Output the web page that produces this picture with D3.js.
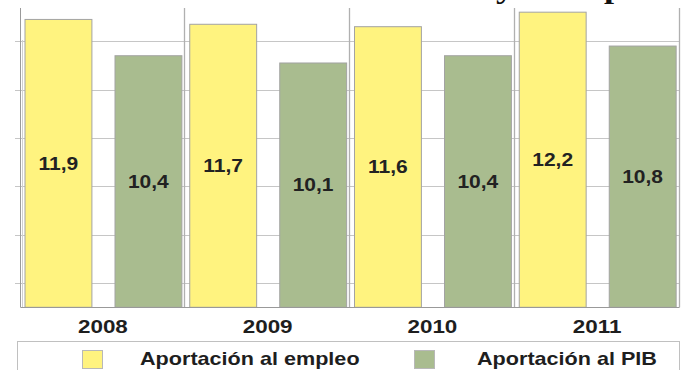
<!DOCTYPE html>
<html>
<head>
<meta charset="utf-8">
<script src="https://cdn.jsdelivr.net/npm/d3@7"></script>
<style>
  html, body { margin: 0; padding: 0; background: #fff; }
  svg { display: block; }
</style>
</head>
<body>
<svg id="chart" width="686" height="370"></svg>
<script>
// Chart data
const years = ["2008", "2009", "2010", "2011"];
const seriesNames = ["Aportación al empleo", "Aportación al PIB"];
const empleo = [11.9, 11.7, 11.6, 12.2];
const pib = [10.4, 10.1, 10.4, 10.8];
const gridValues = [1, 3, 5, 7, 9, 11];
const seriesColors = ["#fff37f", "#a9bc8f"];

const svg = d3.select("#chart");
const plotLeft = 20.5, plotRight = 679.5, plotTop = 8, plotBottom = 307.3;
const sx = 1.2; // horizontal stretch of the lettering

const x = d3.scaleBand().domain(years).range([plotLeft, plotRight]).paddingInner(0).paddingOuter(0);
const xs = d3.scaleBand().domain(seriesNames).range([0, x.bandwidth()])
  .paddingInner(0.2556).paddingOuter(0.0444);
const y = d3.scaleLinear().domain([0, 12.4]).range([plotBottom, plotBottom - 12.4 * 24.19]);

function stretchedText(g, tx, ty, str, opts) {
  return g.append("text")
    .attr("transform", `translate(${tx},${ty}) scale(${sx},1)`)
    .attr("text-anchor", opts.anchor || "middle")
    .attr("font-family", opts.family || "'Liberation Sans', Arial, sans-serif")
    .attr("font-weight", "bold")
    .attr("font-size", opts.size)
    .attr("fill", opts.fill || "#222")
    .attr("dy", opts.dy || 0)
    .text(str);
}

// Title fragments at the top edge
const titleG = svg.append("g");
stretchedText(titleG, 496, -2, "y", { anchor: "start", size: 30, fill: "#111", family: "'Liberation Serif', 'Times New Roman', serif" });
stretchedText(titleG, 604, -2, "p", { anchor: "start", size: 30, fill: "#111", family: "'Liberation Serif', 'Times New Roman', serif" });

// Horizontal grid lines
svg.append("g").selectAll("line").data(gridValues).join("line")
  .attr("x1", 15).attr("x2", plotRight)
  .attr("y1", d => Math.round(y(d)) + 0.5).attr("y2", d => Math.round(y(d)) + 0.5)
  .attr("stroke", "#c6c6c6").attr("stroke-width", 1);

// Category separators
const seps = years.map(d => x(d)).concat([plotRight]);
svg.append("g").selectAll("line").data(seps.slice(1)).join("line")
  .attr("x1", d => Math.round(d) - 0.5).attr("x2", d => Math.round(d) - 0.5)
  .attr("y1", plotTop).attr("y2", plotBottom)
  .attr("stroke", "#b0b0b0").attr("stroke-width", 1.3);

// Left axis (double line)
svg.append("line").attr("x1", 20.5).attr("x2", 20.5).attr("y1", plotTop).attr("y2", plotBottom)
  .attr("stroke", "#9a9a9a");
svg.append("line").attr("x1", 22.5).attr("x2", 22.5).attr("y1", 40).attr("y2", plotBottom)
  .attr("stroke", "#d0d0d0");

// Bars
const rows = years.map((yr, i) => ({ year: yr, values: [empleo[i], pib[i]] }));
const groups = svg.append("g").selectAll("g").data(rows).join("g")
  .attr("transform", d => `translate(${x(d.year)},0)`);

groups.selectAll("rect").data(d => d.values.map((v, j) => ({ v, s: seriesNames[j], j }))).join("rect")
  .attr("x", d => Math.round(xs(d.s)) + 0.5)
  .attr("width", xs.bandwidth())
  .attr("y", d => y(d.v))
  .attr("height", d => plotBottom - y(d.v))
  .attr("fill", d => seriesColors[d.j])
  .attr("stroke", "#a3a3a3").attr("stroke-width", 1);

// Value labels at bar centres
groups.each(function(d) {
  const g = d3.select(this);
  d.values.forEach((v, j) => {
    const cx = xs(seriesNames[j]) + xs.bandwidth() / 2 + 0.5;
    const cy = (y(v) + plotBottom) / 2;
    stretchedText(g, cx, cy, d3.format(".1f")(v).replace(".", ","), { size: 17.5, dy: "0.36em" });
  });
});

// Bottom axis line
svg.append("line").attr("x1", plotLeft).attr("x2", plotRight).attr("y1", 307.5).attr("y2", 307.5)
  .attr("stroke", "#999");

// Year labels
years.forEach(yr => {
  stretchedText(svg, x(yr) + x.bandwidth() / 2, 333, yr, { size: 18.7, fill: "#1e1e1e" });
});

// Legend
svg.append("rect").attr("x", 17.5).attr("y", 341.5).attr("width", plotRight - 17.5).attr("height", 40)
  .attr("fill", "#fff").attr("stroke", "#c0c0c0");
const legendItems = [
  { name: seriesNames[0], color: seriesColors[0], sq: 82, tx: 140 },
  { name: seriesNames[1], color: seriesColors[1], sq: 414, tx: 477 }
];
legendItems.forEach(it => {
  svg.append("rect").attr("x", it.sq + 0.5).attr("y", 350.5).attr("width", 20).attr("height", 18)
    .attr("fill", it.color).attr("stroke", "#b8b8b8");
  stretchedText(svg, it.tx, 365, it.name, { anchor: "start", size: 18, fill: "#1e1e1e" });
});
</script>
</body>
</html>
